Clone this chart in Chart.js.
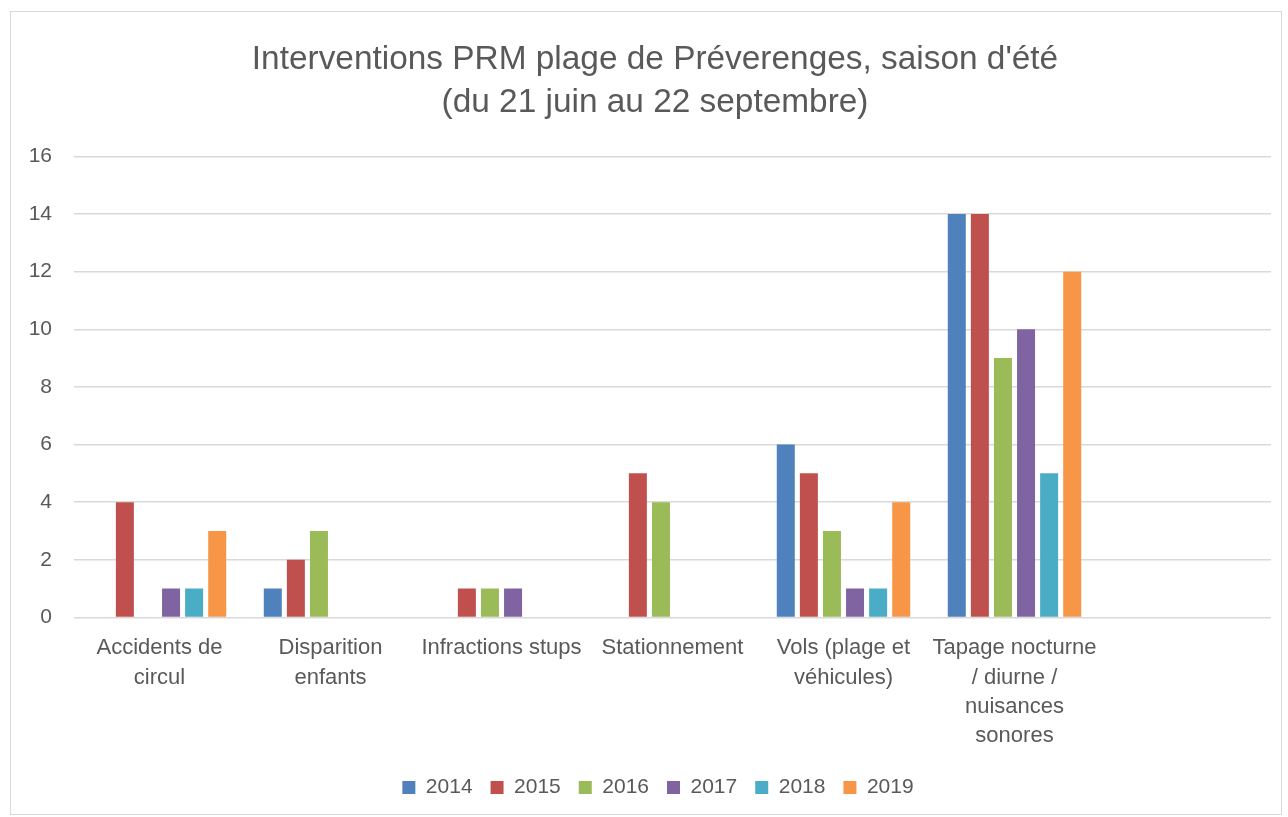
<!DOCTYPE html>
<html>
<head>
<meta charset="utf-8">
<script src="https://cdn.jsdelivr.net/npm/chart.js@4/dist/chart.umd.min.js"></script>
<style>
  body { margin: 0; background: #fff; }
  .frame {
    position: absolute; left: 10px; top: 11px;
    width: 1272px; height: 804px;
    border: 1px solid #d9d9d9; box-sizing: border-box;
  }
</style>
</head>
<body>
<div class="frame"><canvas id="chart"></canvas></div>
<script>
// Categories (last slot is empty in the original)
const categories = [
  ['Accidents de', 'circul'],
  ['Disparition', 'enfants'],
  'Infractions stups',
  'Stationnement',
  ['Vols (plage et', 'véhicules)'],
  ['Tapage nocturne', '/ diurne /', 'nuisances', 'sonores'],
  ''
];

const years = ['2014', '2015', '2016', '2017', '2018', '2019'];
const colors = ['#4f81bd', '#c0504d', '#9bbb59', '#8064a2', '#4bacc6', '#f79646'];

const v2014 = [null, 1, null, null, 6, 14, null];
const v2015 = [4, 2, 1, 5, 5, 14, null];
const v2016 = [null, 3, 1, 4, 3, 9, null];
const v2017 = [1, null, 1, null, 1, 10, null];
const v2018 = [1, null, null, null, 1, 5, null];
const v2019 = [3, null, null, null, 4, 12, null];

const seriesValues = [v2014, v2015, v2016, v2017, v2018, v2019];
const yTicks = [0, 2, 4, 6, 8, 10, 12, 14, 16];

const textColor = '#595959';
const fontFamily = '"Liberation Sans", Arial, sans-serif';

// Excel centres title and legend a bit right of the canvas centre
const shiftBlocks = {
  id: 'shiftBlocks',
  afterLayout(chart) {
    if (chart.titleBlock) { chart.titleBlock.left += 14; chart.titleBlock.right += 14; }
    if (chart.legend) { chart.legend.left += 17; chart.legend.right += 17; }
  }
};

const ctx = document.getElementById('chart').getContext('2d');
new Chart(ctx, {
  type: 'bar',
  data: {
    labels: categories,
    datasets: years.map((y, i) => ({
      label: y,
      data: seriesValues[i],
      backgroundColor: colors[i],
      borderWidth: 0,
      categoryPercentage: 0.81,
      barPercentage: 0.78
    }))
  },
  options: {
    responsive: true,
    maintainAspectRatio: false,
    animation: false,
    layout: { padding: { left: 0, right: 10, top: 10, bottom: 6 } },
    plugins: {
      title: {
        display: true,
        text: ["Interventions PRM plage de Préverenges, saison d'été", '(du 21 juin au 22 septembre)'],
        color: textColor,
        font: { family: fontFamily, size: 33.4, weight: 'normal', lineHeight: 1.3 },
        padding: { top: 16, bottom: 31.6 }
      },
      legend: {
        position: 'bottom',
        labels: {
          color: textColor,
          font: { family: fontFamily, size: 21 },
          boxWidth: 13,
          boxHeight: 13,
          padding: 18
        }
      },
      tooltip: { enabled: false }
    },
    scales: {
      x: {
        grid: { display: false },
        border: { display: false },
        ticks: {
          color: textColor,
          font: { family: fontFamily, size: 22, lineHeight: 1.336 },
          maxRotation: 0,
          autoSkip: false,
          padding: 8
        }
      },
      y: {
        min: 0,
        max: 16,
        afterBuildTicks: axis => { axis.ticks = yTicks.map(v => ({ value: v })); },
        // fixed axis width so the plot starts where the original does
        afterFit: axis => { axis.width = 63; },
        grid: { color: '#d9d9d9', lineWidth: 1.5, drawTicks: false },
        border: { display: false },
        ticks: {
          color: textColor,
          font: { family: fontFamily, size: 21 },
          padding: 22
        }
      }
    }
  },
  plugins: [shiftBlocks]
});
</script>
</body>
</html>
